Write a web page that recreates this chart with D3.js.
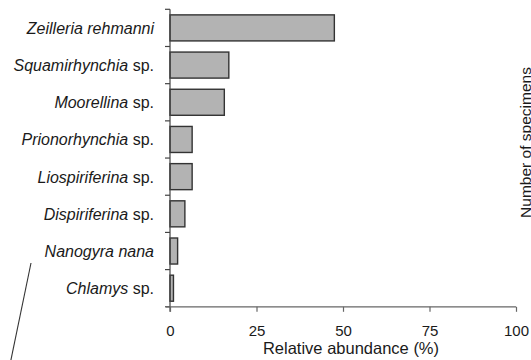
<!DOCTYPE html>
<html>
<head>
<meta charset="utf-8">
<script src="https://cdn.jsdelivr.net/npm/d3@7"></script>
<style>
  html, body { margin: 0; padding: 0; background: #fff; }
  svg { display: block; font-family: "Liberation Sans", Arial, sans-serif; }
</style>
</head>
<body>
<svg id="chart" width="531" height="360"></svg>
<script>
// Taxa (genus/species part in italics, qualifier upright)
const taxa = ["Zeilleria rehmanni", "Squamirhynchia", "Moorellina", "Prionorhynchia",
              "Liospiriferina", "Dispiriferina", "Nanogyra nana", "Chlamys"];
const qualifiers = ["", "sp.", "sp.", "sp.", "sp.", "sp.", "", "sp."];
// Relative abundance (%)
const abundance = [47.5, 17.0, 15.7, 6.4, 6.4, 4.3, 2.2, 1.0];
const xTicks = [0, 25, 50, 75, 100];

const svg = d3.select("#chart");
const plotLeft = 170, plotRight = 516, plotTop = 9.3, plotBottom = 306.8;

const x = d3.scaleLinear().domain([0, 100]).range([plotLeft, plotRight]);
const y = d3.scaleBand().domain(taxa).range([plotTop, plotBottom])
  .paddingInner(0.3).paddingOuter(0.15);

// Bars
svg.append("g").selectAll("rect")
  .data(taxa)
  .join("rect")
  .attr("x", x(0))
  .attr("y", d => y(d))
  .attr("width", (d, i) => x(abundance[i]) - x(0))
  .attr("height", y.bandwidth())
  .attr("fill", "#b3b3b3")
  .attr("stroke", "#333")
  .attr("stroke-width", 1.4);

// Category axis: boundary ticks between bands
const step = y.step();
const bounds = d3.range(taxa.length + 1).map(i => plotTop + i * step);
const yAxis = svg.append("g").attr("stroke", "#444").attr("stroke-width", 1.2);
yAxis.append("line")
  .attr("x1", plotLeft).attr("x2", plotLeft)
  .attr("y1", plotTop).attr("y2", plotBottom + 5);
yAxis.selectAll("line.tick")
  .data(bounds)
  .join("line")
  .attr("class", "tick")
  .attr("x1", plotLeft - 5).attr("x2", plotLeft)
  .attr("y1", d => d).attr("y2", d => d);

// Category labels
const labels = svg.append("g")
  .attr("font-size", 16)
  .attr("fill", "#1a1a1a")
  .attr("text-anchor", "end");
labels.selectAll("text")
  .data(taxa)
  .join("text")
  .attr("x", 154)
  .attr("y", d => y(d) + y.bandwidth() / 2 + 6)
  .each(function (d, i) {
    const t = d3.select(this);
    t.append("tspan").attr("font-style", "italic").text(d);
    if (qualifiers[i]) t.append("tspan").text(" " + qualifiers[i]);
  });

// Value axis
const xAxis = svg.append("g")
  .attr("transform", `translate(0,${plotBottom})`)
  .call(d3.axisBottom(x).tickValues(xTicks).tickSize(5).tickSizeOuter(0).tickPadding(14));
xAxis.select(".domain").attr("stroke", "#666").attr("stroke-width", 1.2)
  .attr("d", `M${plotLeft - 4},0H${plotRight}`);
xAxis.selectAll(".tick line").attr("stroke", "#666").attr("stroke-width", 1.2);
xAxis.selectAll(".tick text")
  .attr("font-size", 15)
  .attr("font-family", "'Liberation Sans', Arial, sans-serif")
  .attr("fill", "#1a1a1a");

svg.append("text")
  .attr("x", 351)
  .attr("y", 354)
  .attr("text-anchor", "middle")
  .attr("font-size", 16.5)
  .attr("fill", "#1a1a1a")
  .text("Relative abundance (%)");

// Secondary axis title (right panel)
svg.append("text")
  .attr("transform", "translate(531,142.5) rotate(-90)")
  .attr("text-anchor", "middle")
  .attr("font-size", 15.5)
  .attr("fill", "#1a1a1a")
  .text("Number of specimens");

// Connector line at lower left
svg.append("line")
  .attr("x1", 31).attr("y1", 263)
  .attr("x2", 10.5).attr("y2", 362)
  .attr("stroke", "#333")
  .attr("stroke-width", 1.1);
</script>
</body>
</html>
